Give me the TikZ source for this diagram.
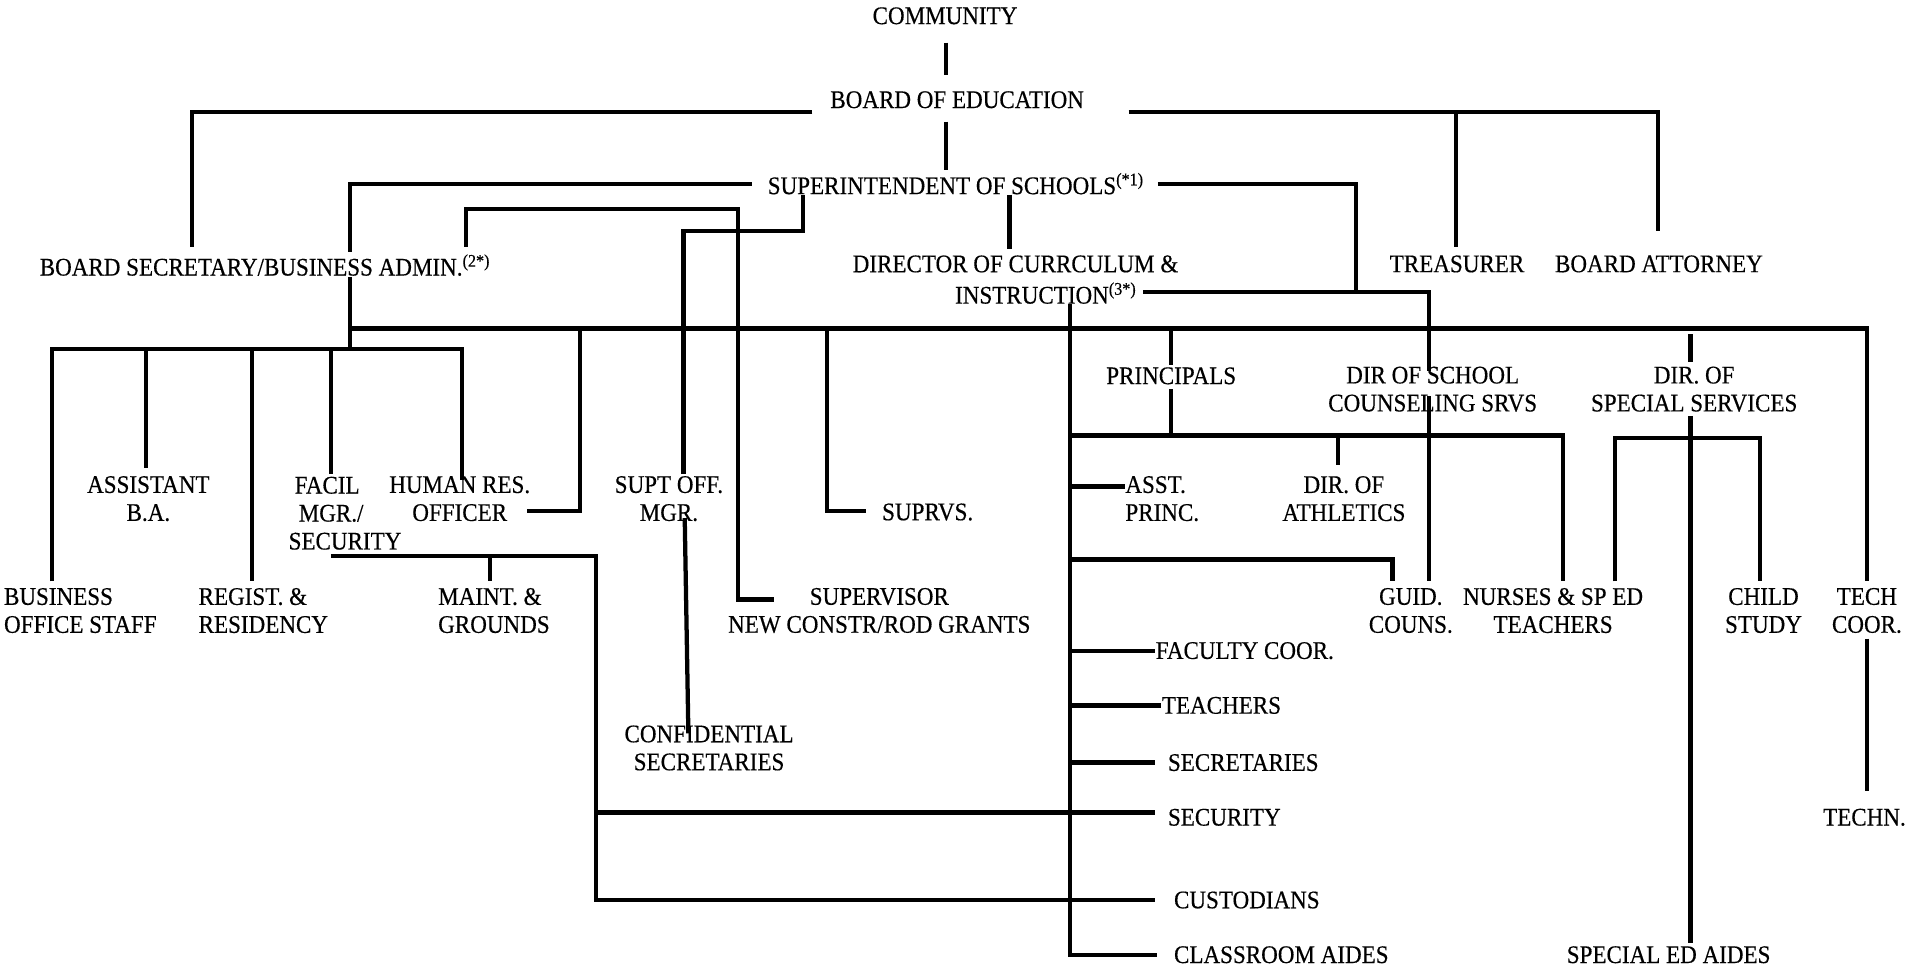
\documentclass[tikz,border=0pt]{standalone}
\usepackage{fontspec}
\setmainfont{Liberation Serif}[FakeStretch=0.91, FakeBold=0.4]
\tikzset{
	lbl/.style={inner sep=0pt, align=center, font=\fontsize{12.5}{13.8}\selectfont},
	lbll/.style={lbl, align=left, anchor=west},
	wire/.style={black, line width=2.1pt},
}
\begin{document}
\begin{tikzpicture}[x=0.6pt, y=-0.6pt]
	  \useasboundingbox (0,0) rectangle (1568,802);
	  %top of the chart
	  \node[lbl] (community) at (777,13) {COMMUNITY};
	  \node[lbl] (board) at (787,82) {BOARD OF EDUCATION};
	  \node[lbl] (supt) at (786,151) {SUPERINTENDENT OF SCHOOLS\textsuperscript{(*1)}};
	  \node[lbl] (bsec) at (218,218) {BOARD SECRETARY/BUSINESS ADMIN.\textsuperscript{(2*)}};
	  \node[lbl] (dci) at (835,217) {DIRECTOR OF CURRCULUM \&};
	  \node[lbl] (instr) at (860,241) {INSTRUCTION\textsuperscript{(3*)}};
	  \node[lbl] (treas) at (1198,217) {TREASURER};
	  \node[lbl] (attor) at (1364,217) {BOARD ATTORNEY};
	  %second row
	  \node[lbl] (princ) at (963,309) {PRINCIPALS};
	  \node[lbl] (dcouns) at (1178,320) {DIR OF SCHOOL\\COUNSELING SRVS};
	  \node[lbl] (dspec) at (1393,320) {DIR. OF\\SPECIAL SERVICES};
	  \node[lbl] (asstba) at (122,410) {ASSISTANT\\B.A.};
	  \node[lbll] (facil) at (237,422) {\hspace*{3pt}FACIL\\\hspace*{5pt}MGR./\\SECURITY};
	  \node[lbl] (hres) at (378,410) {HUMAN RES.\\OFFICER};
	  \node[lbl] (soff) at (550,410) {SUPT OFF.\\MGR.};
	  \node[lbll] (suprvs) at (725,421) {SUPRVS.};
	  \node[lbll] (asstp) at (925,410) {ASST.\\PRINC.};
	  \node[lbl] (dath) at (1105,410) {DIR. OF\\ATHLETICS};
	  %bottom row
	  \node[lbll] (bos) at (3,502) {BUSINESS\\OFFICE STAFF};
	  \node[lbll] (regist) at (163,502) {REGIST. \&\\RESIDENCY};
	  \node[lbll] (maint) at (360,502) {MAINT. \&\\GROUNDS};
	  \node[lbl] (supv) at (723,502) {SUPERVISOR\\NEW CONSTR/ROD GRANTS};
	  \node[lbl] (guid) at (1160,502) {GUID.\\COUNS.};
	  \node[lbl] (nurses) at (1277,502) {NURSES \& SP ED\\TEACHERS};
	  \node[lbl] (child) at (1450,502) {CHILD\\STUDY};
	  \node[lbl] (techc) at (1535,502) {TECH\\COOR.};
	  \node[lbl] (confs) at (583,615) {CONFIDENTIAL\\SECRETARIES};
	  \node[lbll] (faccoor) at (950,535) {FACULTY COOR.};
	  \node[lbll] (teach) at (955,580) {TEACHERS};
	  \node[lbll] (secr) at (960,627) {SECRETARIES};
	  \node[lbll] (secu) at (960,672) {SECURITY};
	  \node[lbll] (cust) at (965,740) {CUSTODIANS};
	  \node[lbll] (aides) at (965,785) {CLASSROOM AIDES};
	  \node[lbl] (spaides) at (1372,785) {SPECIAL ED AIDES};
	  \node[lbl] (techn) at (1533,672) {TECHN.};
	  %board level
	  \draw[wire] (778,35) -- (778,62);
	  \draw[wire] (668,92) -- (158,92) -- (158,203);
	  \draw[wire] (928,92) -- (1363,92) -- (1363,190);
	  \draw[wire] (1197,92) -- (1197,203);
	  \draw[wire] (778,100) -- (778,140);
	  %superintendent level
	  \draw[wire] (618,151) -- (288,151) -- (288,207);
	  \draw[wire] (288,228) -- (288,287);
	  \draw[wire] (952,151) -- (1115,151) -- (1115,240);
	  \draw[wire] (830,160) -- (830,205);
	  \draw[wire] (660,160) -- (660,190) -- (562,190) -- (562,390);
	  \draw[wire] (563,426) -- (566,603);
	  \draw[wire] (383,203) -- (383,172) -- (607,172) -- (607,493) -- (636,493);
	  \draw[wire] (940,240) -- (1175,240) -- (1175,305);
	  \draw[wire] (1175,326) -- (1175,478);
	  %main bus
	  \draw[wire] (288,270) -- (1535,270) -- (1535,478);
	  \draw[wire] (43,478) -- (43,287) -- (380,287) -- (380,395);
	  \draw[wire] (120,287) -- (120,385);
	  \draw[wire] (207,287) -- (207,478);
	  \draw[wire] (272,287) -- (272,390);
	  \draw[wire] (477,270) -- (477,420) -- (433,420);
	  \draw[wire] (680,270) -- (680,420) -- (712,420);
	  %curriculum side
	  \draw[wire] (880,250) -- (880,785) -- ([xshift=-8pt]aides.west);
	  \draw[wire] (963,270) -- (963,300);
	  \draw[wire] (963,320) -- (963,358);
	  \draw[wire] (880,358) -- (1285,358) -- (1285,478);
	  \draw[wire] (1100,358) -- (1100,382);
	  \draw[wire] (880,400) -- (asstp.west |- 880,400);
	  \draw[wire] (880,460) -- (1145,460) -- (1145,478);
	  \draw[wire] (880,535) -- (faccoor.west);
	  \draw[wire] (880,580) -- (teach.west);
	  \draw[wire] (880,627) -- (950,627);
	  %facilities lines
	  \draw[wire] (272,457) -- (490,457) -- (490,740) -- (950,740);
	  \draw[wire] (403,457) -- (403,478);
	  \draw[wire] (490,668) -- (950,668);
	  %special services
	  \draw[wire] (1390,275) -- (1390,298);
	  \draw[wire] (1390,342) -- (1390,775);
	  \draw[wire] (1328,478) -- (1328,360) -- (1447,360) -- (1447,478);
	  \draw[wire] (1535,525) -- (1535,650);
	\end{tikzpicture}
\end{document}
